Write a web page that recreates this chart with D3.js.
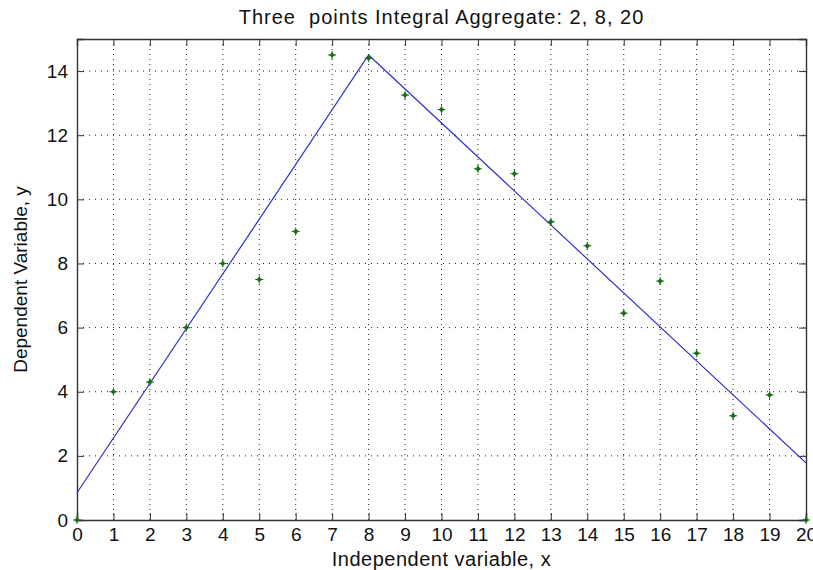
<!DOCTYPE html>
<html>
<head>
<meta charset="utf-8">
<script src="https://cdn.jsdelivr.net/npm/d3@7"></script>
<style>
  body { margin: 0; background: #fff; }
  text { font-family: Arial, "Liberation Sans", sans-serif; fill: #111; }
</style>
</head>
<body>
<div id="chart"></div>
<script>
// Data
var xs = [0, 1, 2, 3, 4, 5, 6, 7, 8, 9, 10, 11, 12, 13, 14, 15, 16, 17, 18, 19, 20];
var ys = [0, 4, 4.3, 6, 8, 7.5, 9, 14.5, 14.4, 13.25, 12.8, 10.95, 10.8, 9.3, 8.55, 6.45, 7.45, 5.2, 3.25, 3.9, 0];
// fitted broken line (three points 2, 8, 20 aggregate)
var fitX = [0, 8, 20];
var fitY = [0.85, 14.5, 1.78];
var xTicks = d3.range(0, 21);
var yTicks = [0, 2, 4, 6, 8, 10, 12, 14];

var margin = {top: 39, right: 7, bottom: 50, left: 77},
    width = 813 - margin.left - margin.right,
    height = 570 - margin.top - margin.bottom;

var svg = d3.select('#chart').append('svg')
    .attr('width', 813)
    .attr('height', 570);
var g = svg.append('g')
    .attr('transform', 'translate(' + margin.left + ',' + margin.top + ')');

var x = d3.scaleLinear().domain([0, 20]).range([0, width]);
var y = d3.scaleLinear().domain([0, 15]).range([height, 0]);

// grid
g.append('g').selectAll('line.gx')
    .data(xTicks.slice(1, -1))
    .enter().append('line')
    .attr('x1', function(d) { return x(d); })
    .attr('x2', function(d) { return x(d); })
    .attr('y1', 0).attr('y2', height)
    .attr('stroke', '#222').attr('stroke-width', 1)
    .attr('stroke-dasharray', '1,4');
g.append('g').selectAll('line.gy')
    .data(yTicks.slice(1))
    .enter().append('line')
    .attr('y1', function(d) { return y(d); })
    .attr('y2', function(d) { return y(d); })
    .attr('x1', 0).attr('x2', width)
    .attr('stroke', '#222').attr('stroke-width', 1)
    .attr('stroke-dasharray', '1,5');

// axes (inward ticks, MATLAB box)
var xAxis = g.append('g')
    .attr('transform', 'translate(0,' + height + ')')
    .call(d3.axisBottom(x).tickValues(xTicks).tickSize(-7).tickPadding(8));
var xTop = g.append('g')
    .call(d3.axisTop(x).tickValues(xTicks).tickSize(-7).tickFormat(''));
var yAxis = g.append('g')
    .call(d3.axisLeft(y).tickValues(yTicks).tickSize(-7).tickPadding(9));
var yRight = g.append('g')
    .attr('transform', 'translate(' + width + ',0)')
    .call(d3.axisRight(y).tickValues(yTicks).tickSize(-7).tickFormat(''));

[xAxis, xTop, yAxis, yRight].forEach(function(a) {
    a.select('.domain').attr('stroke', '#333').attr('stroke-width', 1.4);
    a.selectAll('.tick line').attr('stroke', '#333');
    a.selectAll('.tick text').attr('font-size', '19px')
        .style('font-family', 'Arial, "Liberation Sans", sans-serif').attr('fill', '#111');
});

// fitted line
var line = d3.line()
    .x(function(d) { return x(d[0]); })
    .y(function(d) { return y(d[1]); });
g.append('path')
    .datum(d3.zip(fitX, fitY))
    .attr('d', line)
    .attr('fill', 'none')
    .attr('stroke', '#3030cc')
    .attr('stroke-width', 1.2);

// points: small filled diamond with short arms
var pts = g.selectAll('.pt')
    .data(d3.zip(xs, ys))
    .enter().append('g')
    .attr('class', 'pt')
    .attr('transform', function(d) { return 'translate(' + x(d[0]) + ',' + y(d[1]) + ')'; });
pts.append('path')
    .attr('d', d3.symbol().type(d3.symbolSquare).size(16))
    .attr('transform', 'rotate(45)')
    .attr('fill', '#1a6e1a');
pts.append('path')
    .attr('d', 'M-4,0H4M0,-4V4')
    .attr('stroke', '#1a6e1a')
    .attr('stroke-width', 1);

// title and labels
svg.append('text')
    .text('Three  points Integral Aggregate: 2, 8, 20')
    .style('white-space', 'pre')
    .attr('x', margin.left + width / 2)
    .attr('y', 24)
    .attr('text-anchor', 'middle')
    .attr('font-size', '20px')
    .attr('letter-spacing', '1px');

svg.append('text')
    .text('Independent variable, x')
    .attr('x', margin.left + width / 2)
    .attr('y', 566)
    .attr('text-anchor', 'middle')
    .attr('font-size', '20px')
    .attr('letter-spacing', '0.5px');

svg.append('text')
    .text('Dependent Variable, y')
    .attr('text-anchor', 'middle')
    .attr('font-size', '19px')
    .attr('transform', 'translate(27,' + (margin.top + height / 2) + ')rotate(-90)');
</script>
</body>
</html>
